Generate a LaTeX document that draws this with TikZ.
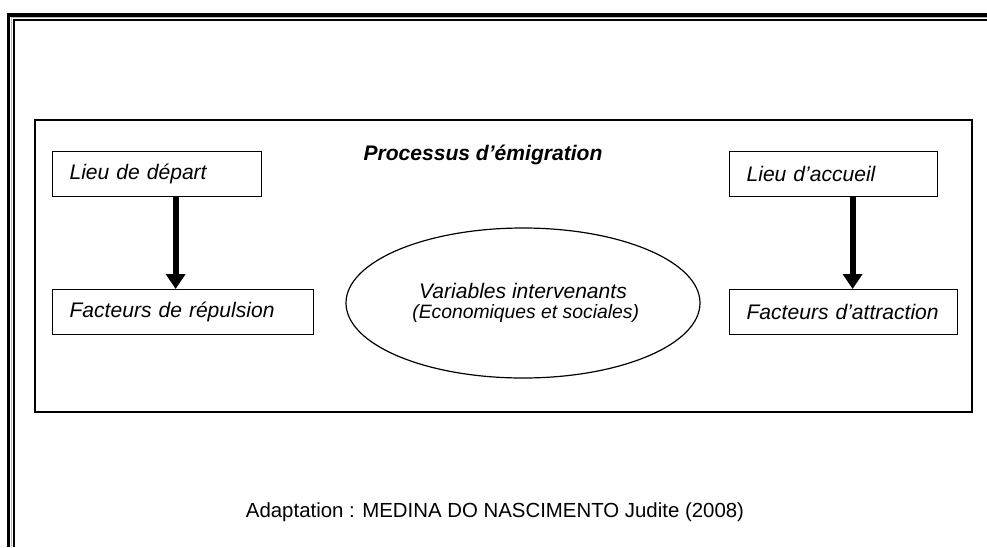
\documentclass[tikz,border=0pt]{standalone}
\usepackage{fontspec}
\setmainfont{Liberation Sans}
\usetikzlibrary{arrows.meta,shapes.geometric}
\begin{document}
\begin{tikzpicture}[x=.75pt,y=-.75pt,
  lieu/.style={draw,line width=.9pt,anchor=north west,inner xsep=12.75pt,inner ysep=0pt,minimum height=33.75pt,align=left,font=\fontsize{15.8}{19}\selectfont\itshape},
  fleche/.style={line width=4.5pt,-{Triangle[length=11.25pt,width=14.25pt]}}]
\useasboundingbox (0,0) rectangle (987,547);
% filet double de la page
\draw[line width=2.4pt] (8.7,547) -- (8.7,15) -- (987,15);
\draw[line width=1.1pt,gray!55] (11.3,547) -- (11.3,17.4) -- (987,17.4);
\draw[line width=1.5pt] (14,547) -- (14,20.3) -- (987,20.3);
% cadre du processus
\draw[line width=.8pt] (35,120) rectangle (972,412);
\node[font=\fontsize{15.8}{19}\selectfont\bfseries\itshape] (titre) at (483,155) {Processus d’émigration};
\node[lieu,text width=131.25pt] (depart) at (52,151) {Lieu de départ};
\node[lieu,text width=170.25pt] (repulsion) at (52,289) {Facteurs de répulsion};
\node[lieu,text width=130.5pt] (accueil) at (729,151) {Lieu d’accueil};
\node[lieu,text width=145.5pt] (attraction) at (729,289) {Facteurs d’attraction};
\draw[fleche] ([xshift=13.9pt]depart.south) -- ([xshift=13.9pt]depart.south |- repulsion.north);
\draw[fleche] ([xshift=14.25pt]accueil.south) -- ([xshift=14.25pt]accueil.south |- attraction.north);
\node[draw,ellipse,line width=.9pt,minimum width=265.5pt,minimum height=112.5pt,inner sep=0pt,align=center,font=\fontsize{15.8}{15}\selectfont\itshape] (variables) at (523,303)
  {Variables intervenants\\{\fontsize{14.5}{15}\selectfont\ (Economiques et sociales)}};
\node[font=\fontsize{15.3}{19}\selectfont] (source) at (495,512) {Adaptation : MEDINA DO NASCIMENTO Judite (2008)};
\end{tikzpicture}
\end{document}
